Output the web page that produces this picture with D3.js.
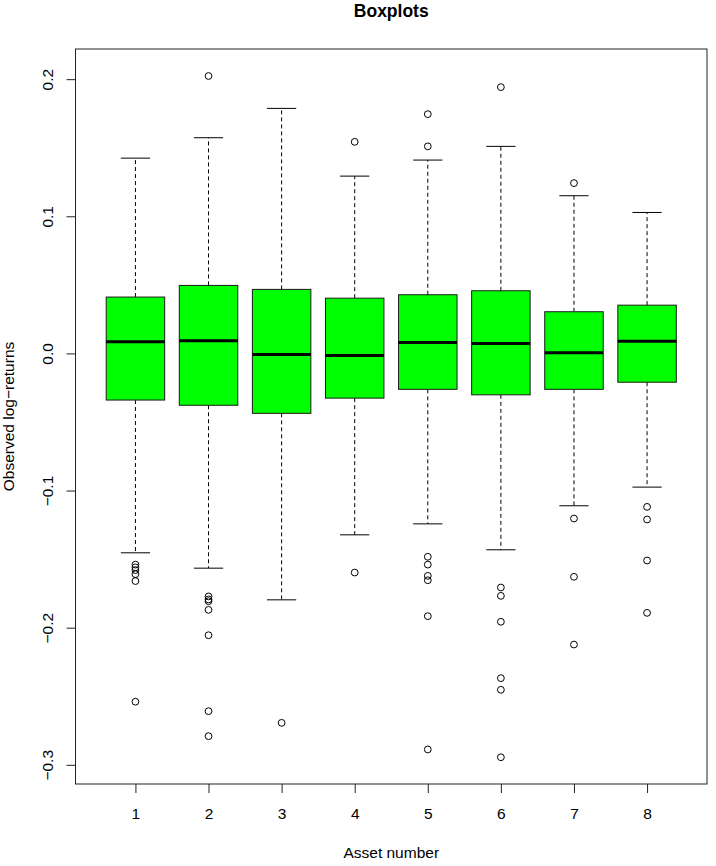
<!DOCTYPE html>
<html>
<head>
<meta charset="utf-8">
<script src="https://cdn.jsdelivr.net/npm/d3@7"></script>
<style>
  body { margin: 0; background: #fff; }
  svg text { font-family: "Liberation Sans", Arial, Helvetica, sans-serif; fill: #000; }
</style>
</head>
<body>
<script>
// asset numbers on the x axis
var assets = [1, 2, 3, 4, 5, 6, 7, 8];

// five-number summaries
var whiskerLow  = [-0.1454, -0.1566, -0.1797, -0.1323, -0.1243, -0.1432, -0.1111, -0.0975];
var q1          = [-0.0340, -0.0378, -0.0437, -0.0326, -0.0262, -0.0302, -0.0262, -0.0210];
var medians     = [ 0.0085,  0.0092, -0.0007, -0.0015,  0.0080,  0.0073,  0.0005,  0.0088];
var q3          = [ 0.0411,  0.0496,  0.0467,  0.0403,  0.0428,  0.0457,  0.0304,  0.0352];
var whiskerHigh = [ 0.1424,  0.1573,  0.1787,  0.1293,  0.1410,  0.1510,  0.1150,  0.1028];

// outliers per asset
var outliers = [
  [-0.154, -0.156, -0.158, -0.161, -0.166, -0.254],
  [0.2023, -0.1772, -0.1794, -0.1807, -0.187, -0.2055, -0.2609, -0.2791],
  [-0.2694],
  [0.1543, -0.1598],
  [0.1745, 0.151, -0.1483, -0.154, -0.1622, -0.1654, -0.1916, -0.2888],
  [0.1942, -0.1707, -0.1768, -0.1957, -0.2368, -0.2453, -0.2945],
  [0.1242, -0.1204, -0.1629, -0.2123],
  [-0.1119, -0.1211, -0.151, -0.1892]
];

var yTicks = [-0.3, -0.2, -0.1, 0.0, 0.1, 0.2];

var W = 716, H = 866;
var margin = {top: 49, right: 9, bottom: 82, left: 75.5},
    width = W - margin.left - margin.right,
    height = H - margin.top - margin.bottom;

var svg = d3.select("body").append("svg")
    .attr("width", W)
    .attr("height", H);

var g = svg.append("g")
    .attr("transform", "translate(" + margin.left + "," + margin.top + ")");

// R style: range padded by 4% on each side
var x = d3.scaleLinear().domain([0.18, 8.82]).range([0, width]);
var y = d3.scaleLinear().domain([-0.314, 0.222]).range([height, 0]);

var boxW = 0.8 * (x(1) - x(0));
var capW = boxW / 2;

var data = assets.map(function(a, i) {
  return {asset: a, lo: whiskerLow[i], q1: q1[i], med: medians[i], q3: q3[i], hi: whiskerHigh[i], out: outliers[i]};
});

var box = g.selectAll(".box").data(data).enter().append("g")
    .attr("class", "box")
    .attr("transform", function(d) { return "translate(" + x(d.asset) + ",0)"; });

// whiskers
box.append("line")
    .attr("y1", function(d) { return y(d.q3); })
    .attr("y2", function(d) { return y(d.hi); })
    .attr("stroke", "#000").attr("stroke-dasharray", "4,3");
box.append("line")
    .attr("y1", function(d) { return y(d.q1); })
    .attr("y2", function(d) { return y(d.lo); })
    .attr("stroke", "#000").attr("stroke-dasharray", "4,3");

// caps
box.append("line")
    .attr("x1", -capW / 2).attr("x2", capW / 2)
    .attr("y1", function(d) { return y(d.hi); })
    .attr("y2", function(d) { return y(d.hi); })
    .attr("stroke", "#000");
box.append("line")
    .attr("x1", -capW / 2).attr("x2", capW / 2)
    .attr("y1", function(d) { return y(d.lo); })
    .attr("y2", function(d) { return y(d.lo); })
    .attr("stroke", "#000");

// boxes
box.append("rect")
    .attr("x", -boxW / 2)
    .attr("width", boxW)
    .attr("y", function(d) { return y(d.q3); })
    .attr("height", function(d) { return y(d.q1) - y(d.q3); })
    .attr("fill", "#00ff00")
    .attr("stroke", "#1a1a1a");

// medians
box.append("line")
    .attr("x1", -boxW / 2).attr("x2", boxW / 2)
    .attr("y1", function(d) { return y(d.med); })
    .attr("y2", function(d) { return y(d.med); })
    .attr("stroke", "#000").attr("stroke-width", 3);

// outlier points
box.selectAll("circle").data(function(d) { return d.out; }).enter().append("circle")
    .attr("cy", function(v) { return y(v); })
    .attr("r", 3.4)
    .attr("fill", "none")
    .attr("stroke", "#000");

// frame
g.append("rect")
    .attr("width", width).attr("height", height)
    .attr("fill", "none").attr("stroke", "#222");

// y axis
var yAxis = d3.axisLeft(y).tickValues(yTicks).tickFormat(d3.format(".1f")).tickSize(9).tickPadding(0);
var ya = g.append("g").call(yAxis);
ya.select(".domain").remove();
ya.selectAll("line").attr("stroke", "#222");
ya.selectAll("text")
    .attr("x", null)
    .attr("text-anchor", "middle")
    .attr("transform", "translate(-28,0) rotate(-90)")
    .attr("dy", "0.35em")
    .style("font-size", "15.5px");

// x axis
var xAxis = d3.axisBottom(x).tickValues(assets).tickFormat(d3.format("d")).tickSize(9).tickPadding(15);
var xa = g.append("g").attr("transform", "translate(0," + height + ")").call(xAxis);
xa.select(".domain").remove();
xa.selectAll("line").attr("stroke", "#222");
xa.selectAll("text").style("font-size", "15.5px");

// titles
svg.append("text")
    .attr("x", margin.left + width / 2).attr("y", 17)
    .attr("text-anchor", "middle")
    .style("font-size", "17.5px").style("font-weight", "bold")
    .text("Boxplots");

svg.append("text")
    .attr("x", margin.left + width / 2).attr("y", 858)
    .attr("text-anchor", "middle")
    .style("font-size", "15.5px")
    .text("Asset number");

svg.append("text")
    .attr("transform", "translate(14," + (margin.top + height / 2) + ") rotate(-90)")
    .attr("text-anchor", "middle")
    .style("font-size", "15.5px")
    .text("Observed log\u2212returns");
</script>
</body>
</html>
